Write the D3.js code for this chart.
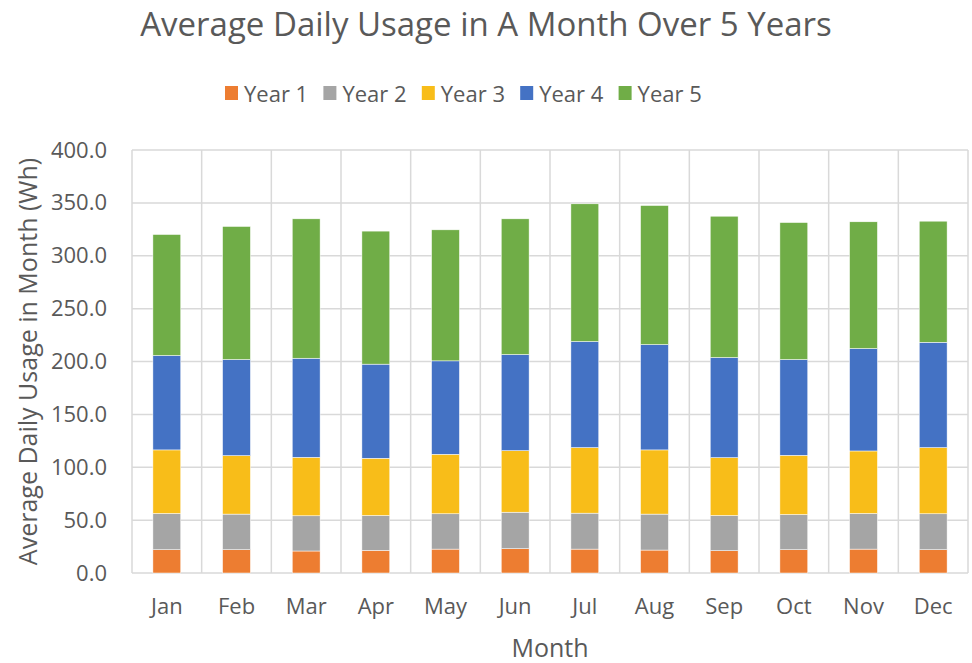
<!DOCTYPE html>
<html>
  <head>
    <meta charset="utf-8">
    <title></title>
    <script src="https://cdnjs.cloudflare.com/ajax/libs/d3/7.8.5/d3.min.js"></script>
    <style>
      body { margin: 0; background-color: white }
      text { font-family: "Open Sans", Lato, sans-serif; fill: #595959 }
    </style>
  </head>
  <body>
    <div id="chart"></div>
  <script>

var months = ["Jan","Feb","Mar","Apr","May","Jun","Jul","Aug","Sep","Oct","Nov","Dec"]
var seriesNames = ["Year 1","Year 2","Year 3","Year 4","Year 5"]
var year1 = [22.0, 22.0, 20.8, 21.4, 22.6, 23.0, 22.6, 21.7, 21.1, 22.0, 22.6, 22.0]
var year2 = [34.3, 33.7, 33.3, 33.0, 33.4, 34.5, 34.0, 34.0, 33.3, 33.3, 33.7, 34.0]
var year3 = [60.1, 55.3, 55.3, 54.1, 56.3, 58.2, 62.0, 60.7, 54.7, 56.0, 59.1, 62.6]
var year4 = [89.3, 90.9, 93.7, 89.0, 88.3, 90.9, 100.3, 99.6, 94.7, 90.6, 96.9, 99.6]
var year5 = [114.4, 125.8, 131.8, 125.8, 123.9, 128.3, 130.2, 131.5, 133.6, 129.5, 119.8, 114.5]
var yTicks = [0, 50, 100, 150, 200, 250, 300, 350, 400]
var colors = ["#ED7D31", "#A5A5A5", "#F8BD19", "#4472C4", "#70AD47"]

var W = 972, H = 663
var m = {left: 132, right: 4, top: 150, bottom: 90}

var svg = d3.select("#chart").append("svg")
    .attr("width", W)
    .attr("height", H)

var rows = months.map(function(mo, i){
    return {month: mo, "Year 1": year1[i], "Year 2": year2[i], "Year 3": year3[i],
	    "Year 4": year4[i], "Year 5": year5[i]}
})
var stack = d3.stack().keys(seriesNames)(rows)

var x = d3.scaleBand()
    .domain(months)
    .range([m.left, W - m.right])
    .paddingInner(0.6)
    .paddingOuter(0.3)
var y = d3.scaleLinear()
    .domain([0, 400])
    .range([H - m.bottom, m.top])

var grid = "#D9D9D9"

// horizontal gridlines
svg.append("g").selectAll("line")
    .data(yTicks)
    .enter().append("line")
    .attr("x1", m.left).attr("x2", W - m.right)
    .attr("y1", function(d){ return y(d) }).attr("y2", function(d){ return y(d) })
    .style("stroke", grid).style("stroke-width", 1.5)

// vertical gridlines (category boundaries)
var step = x.step()
svg.append("g").selectAll("line")
    .data(d3.range(months.length + 1))
    .enter().append("line")
    .attr("x1", function(i){ return m.left + i * step })
    .attr("x2", function(i){ return m.left + i * step })
    .attr("y1", y(0)).attr("y2", y(400))
    .style("stroke", grid).style("stroke-width", 1.5)

// bars
svg.append("g").selectAll("g")
    .data(stack)
    .enter().append("g")
    .style("fill", function(d, i){ return colors[i] })
    .selectAll("rect")
    .data(function(d){ return d })
    .enter().append("rect")
    .attr("x", function(d){ return x(d.data.month) })
    .attr("width", x.bandwidth())
    .attr("y", function(d){ return y(d[1]) })
    .attr("height", function(d){ return y(d[0]) - y(d[1]) })
    .style("stroke", "white").style("stroke-width", 0.5)

// y axis
var yAxis = svg.append("g")
    .attr("transform", "translate(" + m.left + ",0)")
    .call(d3.axisLeft(y).tickValues(yTicks).tickFormat(d3.format(".1f")).tickSize(0).tickPadding(25))
yAxis.select(".domain").remove()
yAxis.selectAll("text").style("font-size", "22px").style("fill", "#595959")
    .style("font-family", "'Open Sans', sans-serif")

// x axis
var xAxis = svg.append("g")
    .attr("transform", "translate(0," + y(0) + ")")
    .call(d3.axisBottom(x).tickSize(0).tickPadding(25))
xAxis.select(".domain").remove()
xAxis.selectAll("text").style("font-size", "22px").style("fill", "#595959")
    .style("font-family", "'Open Sans', sans-serif")

// titles
svg.append("text")
    .attr("x", 486).attr("y", 36)
    .attr("text-anchor", "middle")
    .style("font-size", "33px")
    .text("Average Daily Usage in A Month Over 5 Years")

svg.append("text")
    .attr("x", (m.left + W - m.right) / 2).attr("y", 657)
    .attr("text-anchor", "middle")
    .style("font-size", "25px")
    .text("Month")

svg.append("text")
    .attr("transform", "translate(37," + ((y(0) + y(400)) / 2) + ") rotate(-90)")
    .attr("text-anchor", "middle")
    .style("font-size", "25px")
    .text("Average Daily Usage in Month (Wh)")

// legend
var leg = svg.append("g").selectAll("g")
    .data(seriesNames)
    .enter().append("g")
    .attr("transform", function(d, i){ return "translate(" + (225 + i * 98.4) + ",86)" })
leg.append("rect")
    .attr("width", 13).attr("height", 14)
    .style("fill", function(d, i){ return colors[i] })
leg.append("text")
    .attr("x", 19).attr("y", 15.5)
    .style("font-size", "22px")
    .text(function(d){ return d })

  </script>
  </body>
</html>
